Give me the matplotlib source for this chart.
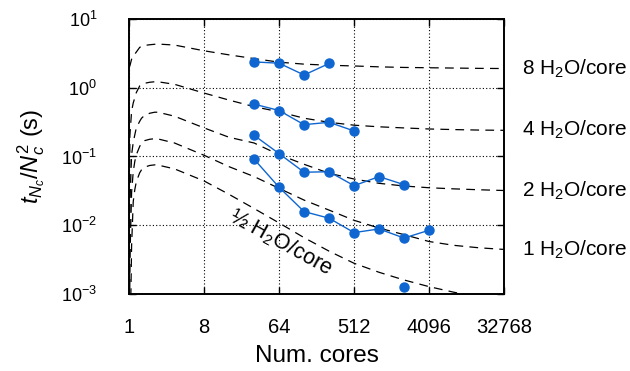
import matplotlib

matplotlib.use("Agg")
import matplotlib.pyplot as plt
import matplotlib.transforms as mtransforms

plt.rcParams["font.family"] = ["Liberation Sans", "DejaVu Sans"]
plt.rcParams["mathtext.fontset"] = "custom"
plt.rcParams["mathtext.rm"] = "Liberation Sans"
plt.rcParams["mathtext.it"] = "Liberation Sans:italic"
plt.rcParams["mathtext.bf"] = "Liberation Sans:bold"

# measured timings (blue points)
n_8 = [32, 64, 128, 256]
t_8 = [2.37, 2.27, 1.53, 2.25]
n_4 = [32, 64, 128, 256, 512]
t_4 = [0.577, 0.466, 0.290, 0.314, 0.235]
n_2 = [32, 64, 128, 256, 512, 1024, 2048]
t_2 = [0.203, 0.110, 0.059, 0.060, 0.0376, 0.051, 0.0389]
n_1 = [32, 64, 128, 256, 512, 1024, 2048, 4096]
t_1 = [0.0914, 0.0356, 0.0158, 0.01265, 0.00782, 0.00883, 0.00652, 0.00845]
n_half = [2048]
t_half = [0.00128]

# model curves (dashed)
m_n = [1.0, 1.02, 1.07, 1.12, 1.17, 1.22, 1.34, 1.41, 1.54, 1.77, 2.03, 2.22,
       3.52, 8, 16, 32, 64, 128, 256, 512, 1024, 2048, 4096, 8192, 16384, 32768]
m_8 = [2.0, 2.07, 2.6, 2.9, 3.08, 3.3, 3.86, 4.0, 4.12, 4.21, 4.28, 4.31,
       4.17, 3.44, 3.0, 2.65, 2.35, 2.2, 2.12, 2.07, 2.01, 1.97, 1.95, 1.93, 1.91, 1.90]
m_4 = [1e-4, 0.2, 0.455, 0.6, 0.714, 0.85, 1.06, 1.1, 1.16, 1.2, 1.22, 1.22,
       1.12, 0.835, 0.66, 0.53, 0.446, 0.36, 0.314, 0.285, 0.27, 0.26, 0.251, 0.246, 0.242, 0.240]
m_2 = [1e-4, 0.02, 0.106, 0.16, 0.207, 0.26, 0.325, 0.36, 0.398, 0.425, 0.44, 0.44,
       0.385, 0.26, 0.19, 0.157, 0.106, 0.077, 0.057, 0.047, 0.0407, 0.0372, 0.0351, 0.0338, 0.0328, 0.0320]
m_1 = [1e-4, 0.003, 0.03, 0.06, 0.085, 0.106, 0.14, 0.157, 0.17, 0.178, 0.181, 0.18,
       0.157, 0.104, 0.071, 0.051, 0.0344, 0.0232, 0.0166, 0.0118, 0.0091, 0.0073, 0.0058, 0.0051, 0.0047, 0.00445]
m_half = [1e-5, 1e-4, 0.005, 0.022, 0.033, 0.043, 0.058, 0.064, 0.07, 0.074, 0.0755, 0.075,
          0.066, 0.044, 0.0281, 0.0175, 0.0108, 0.0066, 0.0042, 0.0028, 0.00207, 0.0016, 0.00128, 0.00106, 0.0009, 0.0008]

x_ticks = [1, 8, 64, 512, 4096, 32768]
x_labels = ["1", "8", "64", "512", "4096", "32768"]
right_labels = ["8 H$_2$O/core", "4 H$_2$O/core", "2 H$_2$O/core", "1 H$_2$O/core"]

blue = "#0f66d0"

fig = plt.figure(figsize=(6.3, 3.71), dpi=100)
ax = fig.add_axes([0.205, 0.2075, 0.595, 0.7415])

for m in (m_8, m_4, m_2, m_1, m_half):
    ax.plot(m_n, m, color="black", lw=0.9, ls=(0, (7, 5)), zorder=2)

for n, t in ((n_8, t_8), (n_4, t_4), (n_2, t_2), (n_1, t_1), (n_half, t_half)):
    ax.plot(n, t, color=blue, lw=1.0, marker="o", ms=6.5, zorder=3)

ax.set_xscale("log", base=2)
ax.set_yscale("log")
ax.set_xlim(1, 32768)
ax.set_ylim(1e-3, 10)
ax.set_xticks(x_ticks)
ax.set_xticklabels(x_labels)
ax.set_yticks([1e-3, 1e-2, 1e-1, 1, 10])
ax.minorticks_off()
ax.tick_params(direction="in", length=5, width=1, top=True, right=True)
ax.tick_params(axis="x", pad=17, labelsize=14.5)
ax.tick_params(axis="y", pad=23, labelsize=13)
ax.grid(True, color="black", ls=(0, (1, 2)), lw=0.8)
for s in ax.spines.values():
    s.set_linewidth(1.4)

ax.set_xlabel("Num. cores", fontsize=17.5, labelpad=6)
ax.set_ylabel(r"$t_{N_c}/N_c^2$ (s)", fontsize=17, labelpad=10)

trans = mtransforms.blended_transform_factory(ax.transAxes, ax.transData)
for lab, m in zip(right_labels, (m_8, m_4, m_2, m_1)):
    ax.text(1.047, m[-1], lab, transform=trans, fontsize=15, va="center",
            ha="left", clip_on=False)

ax.text(66, 0.0056, "½ H$_2$O/core", fontsize=15.5, rotation=-29,
        ha="center", va="center", rotation_mode="anchor")

fig.savefig("out.png", dpi=100)
